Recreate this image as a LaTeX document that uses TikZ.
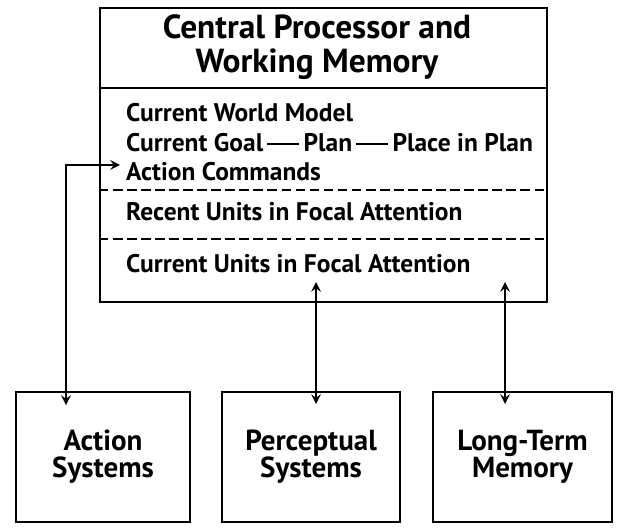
\documentclass[tikz,border=0pt]{standalone}
\usepackage{fontspec}
\setmainfont{PT Sans}
\usetikzlibrary{arrows}
\newcommand{\plandash}{\,\rule[0.27em]{1.25em}{0.09em}\,}

\begin{document}
\begin{tikzpicture}[x=0.02cm, y=-0.02cm, >=stealth,
    frame/.style={draw, line width=1.4pt},
    item/.style={anchor=west, font=\bfseries\fontsize{14.5}{16}\selectfont},
    sysbox/.style={frame, minimum height=2.6cm, align=center,
        font=\bfseries\fontsize{16.5}{15.5}\selectfont},
    sep/.style={line width=1.1pt, dash pattern=on 5.5pt off 2.5pt},
    link/.style={<->, line width=1.4pt}]
    \useasboundingbox (0,0) rectangle (618,527);
    % Prozessor mit Arbeitsgedaechtnis
    \node[frame, minimum width=8.94cm, minimum height=5.88cm] (cpu) at (323.5,155) {};
    \node[align=center, font=\bfseries\fontsize{19}{19.5}\selectfont] (title) at (317,47)
        {Central Processor and\\Working Memory};
    \draw[line width=1.4pt] (cpu.west |- 0,88) -- (cpu.east |- 0,88);
    % Inhalte
    \node[item] (world) at (120,113) {Current World Model};
    \node[item] (goal) at (120,143) {Current Goal\plandash Plan\plandash Place in Plan};
    \node[item] (cmd) at (120,172) {Action Commands};
    \draw[sep] (cpu.west |- 0,190) -- (cpu.east |- 0,190);
    \node[item] (recent) at (120,212) {Recent Units in Focal Attention};
    \draw[sep] (cpu.west |- 0,239) -- (cpu.east |- 0,239);
    \node[item] (units) at (120,264) {Current Units in Focal Attention};
    % Untere Kaesten
    \node[sysbox, minimum width=3.48cm] (act) at (103,457) {Action\\Systems};
    \node[sysbox, minimum width=3.56cm] (per) at (311,457) {Perceptual\\Systems};
    \node[sysbox, minimum width=3.58cm] (ltm) at (522.5,457) {Long-Term\\Memory};
    % Verbindungen
    \coordinate (actin) at (66,405);
    \coordinate (perin) at (316,404);
    \coordinate (perout) at (316,282);
    \coordinate (ltmin) at (505,404);
    \coordinate (ltmout) at (505,282);
    \draw[link] ([yshift=4pt]cmd.west) -| (actin);
    \draw[link] (perout) -- (perin);
    \draw[link] (ltmout) -- (ltmin);
\end{tikzpicture}
\end{document}
